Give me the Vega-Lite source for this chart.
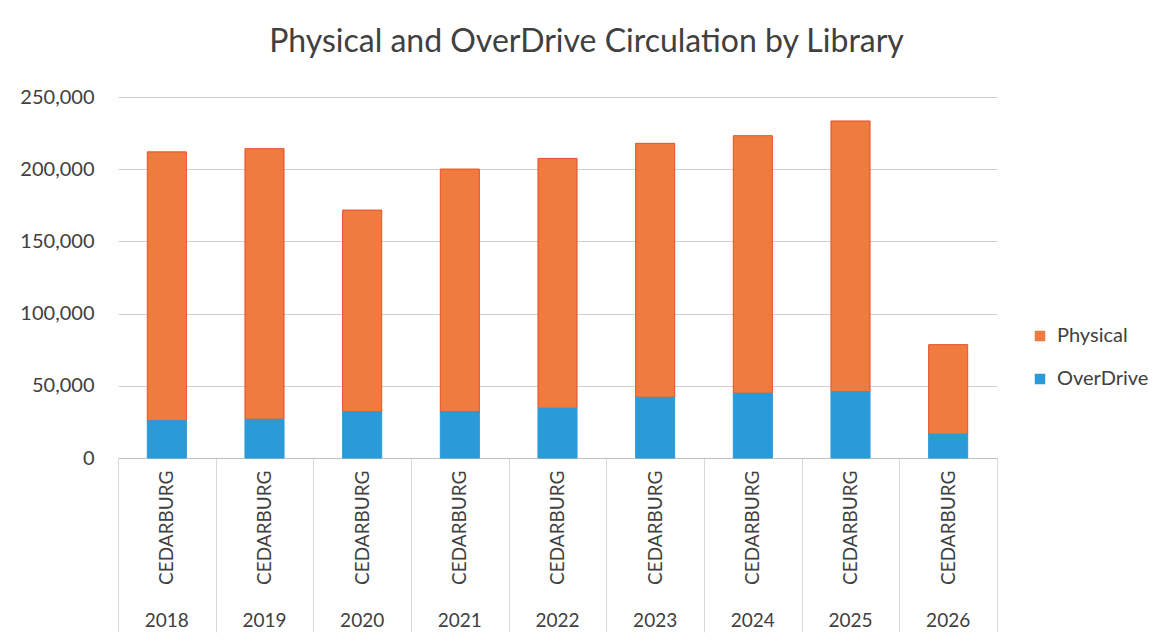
{
  "$schema": "https://vega.github.io/schema/vega-lite/v6.json",
  "width": 879,
  "height": 361,
  "autosize": {"type": "none"},
  "padding": {"left": 118, "top": 97, "right": 171, "bottom": 186},
  "background": "white",
  "config": {"view": {"stroke": null}, "font": "Lato"},
  "title": {"text": "Physical and OverDrive Circulation by Library", "font": "Lato", "fontSize": 32, "fontWeight": "normal", "color": "#404040", "anchor": "middle", "offset": 28, "dx": 29},
  "data": {"values": [
    {"year": "2018", "library": "CEDARBURG", "type": "Physical", "circulation": 186200},
    {"year": "2018", "library": "CEDARBURG", "type": "OverDrive", "circulation": 25800},
    {"year": "2019", "library": "CEDARBURG", "type": "Physical", "circulation": 187400},
    {"year": "2019", "library": "CEDARBURG", "type": "OverDrive", "circulation": 26800},
    {"year": "2020", "library": "CEDARBURG", "type": "Physical", "circulation": 139600},
    {"year": "2020", "library": "CEDARBURG", "type": "OverDrive", "circulation": 32100},
    {"year": "2021", "library": "CEDARBURG", "type": "Physical", "circulation": 168200},
    {"year": "2021", "library": "CEDARBURG", "type": "OverDrive", "circulation": 31900},
    {"year": "2022", "library": "CEDARBURG", "type": "Physical", "circulation": 173100},
    {"year": "2022", "library": "CEDARBURG", "type": "OverDrive", "circulation": 34400},
    {"year": "2023", "library": "CEDARBURG", "type": "Physical", "circulation": 175900},
    {"year": "2023", "library": "CEDARBURG", "type": "OverDrive", "circulation": 42000},
    {"year": "2024", "library": "CEDARBURG", "type": "Physical", "circulation": 178400},
    {"year": "2024", "library": "CEDARBURG", "type": "OverDrive", "circulation": 44800},
    {"year": "2025", "library": "CEDARBURG", "type": "Physical", "circulation": 187500},
    {"year": "2025", "library": "CEDARBURG", "type": "OverDrive", "circulation": 45900},
    {"year": "2026", "library": "CEDARBURG", "type": "Physical", "circulation": 62100},
    {"year": "2026", "library": "CEDARBURG", "type": "OverDrive", "circulation": 16400}
  ]},
  "layer": [
    {
      "mark": {"type": "bar", "strokeWidth": 1, "width": {"band": 0.4}},
      "encoding": {
        "x": {"field": "year", "type": "ordinal",
          "scale": {"paddingInner": 0, "paddingOuter": 0},
          "axis": {"orient": "bottom", "title": null, "labelExpr": "isValid(datum.value) ? 'CEDARBURG' : ''", "labelAngle": 270, "labelFont": "Lato", "labelFontSize": 19, "labelColor": "#404040", "labelPadding": -162, "domainColor": "#bfbfbf", "tickBand": "extent", "tickSize": 174, "tickColor": "#d9d9d9"}},
        "y": {"field": "circulation", "type": "quantitative", "stack": "zero",
          "scale": {"domain": [0, 250000]},
          "axis": {"title": null, "values": [0, 50000, 100000, 150000, 200000, 250000], "format": ",.0f", "domain": false, "ticks": false, "labelPadding": 24, "labelFont": "Lato", "labelFontSize": 20, "labelColor": "#404040", "gridColor": "#d0d0d0"}},
        "color": {"field": "type", "type": "nominal",
          "scale": {"domain": ["Physical", "OverDrive"], "range": ["#EF7B3F", "#2B9AD9"]},
          "legend": {"orient": "none", "legendX": 912, "legendY": 229, "title": null, "symbolType": "square", "symbolSize": 110, "symbolStrokeWidth": 0, "labelFont": "Lato", "labelFontSize": 20, "labelColor": "#404040", "rowPadding": 23, "labelOffset": 7}},
        "stroke": {"field": "type", "type": "nominal",
          "scale": {"domain": ["Physical", "OverDrive"], "range": ["#E4502A", "#2B9AD9"]},
          "legend": null},
        "order": {"field": "type", "sort": "ascending"}
      }
    },
    {
      "mark": {"type": "bar", "opacity": 0},
      "encoding": {
        "x": {"field": "year", "type": "ordinal",
          "axis": {"orient": "bottom", "title": null, "labelAngle": 0, "domain": false, "ticks": false, "labelPadding": 153, "labelFont": "Lato", "labelFontSize": 19, "labelColor": "#404040"}}
      }
    }
  ],
  "resolve": {"axis": {"x": "independent"}}
}
